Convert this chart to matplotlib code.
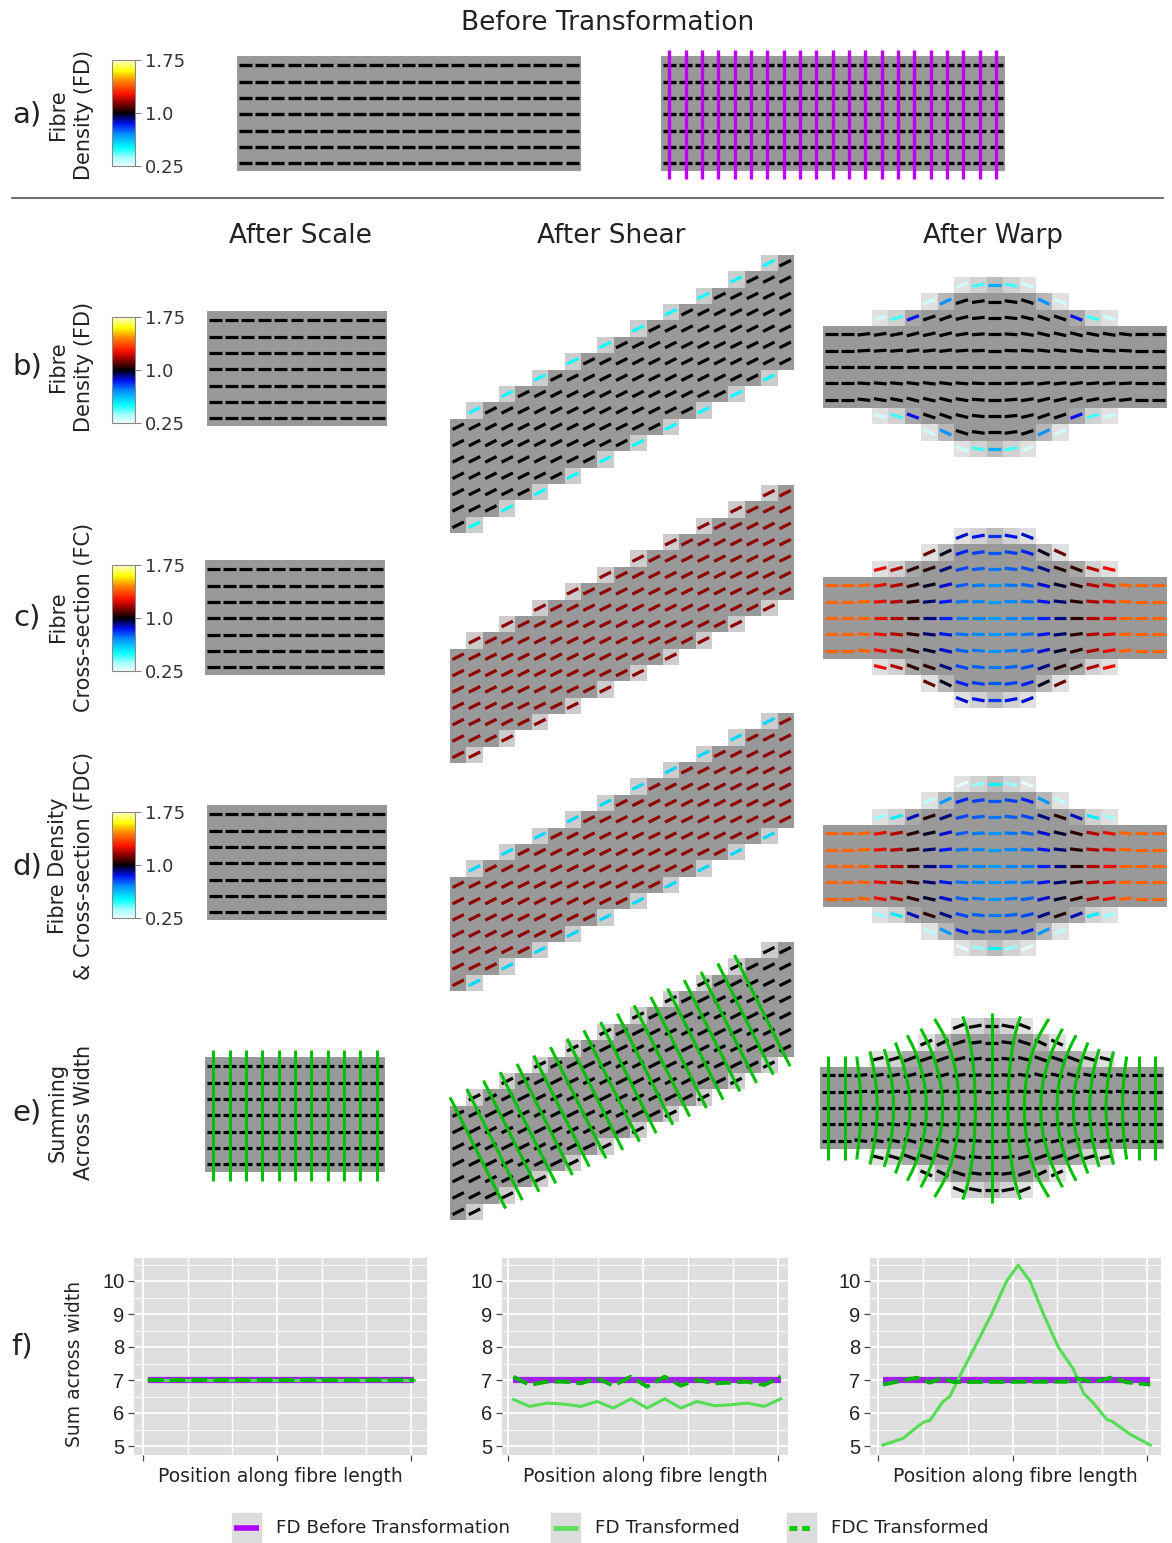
import numpy as np
import matplotlib
matplotlib.use("Agg")
import matplotlib.pyplot as plt
from matplotlib.colors import LinearSegmentedColormap, Normalize
from matplotlib.collections import LineCollection
from matplotlib.cm import ScalarMappable
from matplotlib.patches import Rectangle
from matplotlib.lines import Line2D

# ---------------- data ----------------
n_fibres = 7            # fibres across the bundle width
n_cols = 21             # voxels along the bundle before transformation
scale_cols = 11         # voxels along the bundle after scaling
shear_slope = 0.5       # voxel rise per voxel
shear_fc = 1.15         # fibre cross-section after shear
# half height of the bundle (voxels) in each column after the warp
warp_half_height = [2.5, 2.5, 2.5, 2.8, 2.95, 3.35, 3.8, 4.2, 4.8, 4.95, 5.15,
                    4.95, 4.8, 4.2, 3.8, 3.35, 2.95, 2.8, 2.5, 2.5, 2.5]
n_sum_lines_shear = 18

cbar_ticks = [0.25, 1.0, 1.75]
cbar_labels = ["0.25", "1.0", "1.75"]

# sums across width (panel f)
scale_pos = [0.4, 20.2]
scale_before = [7.0, 7.0]
scale_fd = [7.0, 7.0]
scale_fdc = [7.0, 7.0]

shear_pos = [0.4, 1.6, 2.9, 4.1, 5.4, 6.6, 7.8, 9.1, 10.3, 11.6, 12.8, 14.0,
             15.3, 16.5, 17.7, 19.0, 20.2]
shear_before = [7.0] * 17
shear_fd = [6.41, 6.20, 6.30, 6.27, 6.20, 6.35, 6.15, 6.43, 6.15, 6.43, 6.15,
            6.35, 6.22, 6.25, 6.30, 6.20, 6.43]
shear_fdc = [7.10, 6.85, 6.95, 6.95, 6.90, 7.05, 6.83, 7.10, 6.80, 7.10, 6.83,
             7.00, 6.90, 6.92, 6.95, 6.85, 7.10]

warp_pos_before = [0.37, 20.25]
warp_before = [7.0, 7.0]
warp_pos_fd = [0.37, 1.86, 3.1, 3.48, 3.85, 4.84, 5.34, 6.34, 7.2, 8.45, 9.57,
               10.43, 11.3, 12.3, 13.4, 14.53, 15.28, 16.02, 17.02, 17.4, 18.76, 20.25]
warp_fd = [5.03, 5.23, 5.64, 5.74, 5.77, 6.35, 6.5, 7.33, 8.0, 9.0, 10.0,
           10.48, 10.0, 9.0, 8.0, 7.33, 6.6, 6.3, 5.8, 5.75, 5.35, 5.03]
warp_pos_fdc = [0.37, 2.86, 3.85, 4.72, 5.6, 14.04, 14.78, 16.02, 17.4, 18.5, 20.25]
warp_fdc = [6.86, 7.07, 6.92, 7.05, 6.94, 6.95, 7.05, 6.93, 7.08, 6.93, 6.86]

# ---------------- style ----------------
plt.rcParams['font.family'] = ['DejaVu Sans']
fd_cmap = LinearSegmentedColormap.from_list("fd", [
    (0.00, '#eaffff'), (0.08, '#a0ffff'), (0.17, '#00ffff'), (0.30, '#0090ff'),
    (0.40, '#0010f0'), (0.50, '#000000'), (0.60, '#900000'), (0.68, '#ff1000'),
    (0.80, '#ff8000'), (0.90, '#ffff00'), (1.00, '#ffffd0')])
norm = Normalize(0.25, 1.75)
purple = '#c000f0'
green = '#00c000'

W, H = 1172, 1543
VOX = 16.35
fig = plt.figure(figsize=(W / 100, H / 100), dpi=100)


def fy(y):
    return 1 - y / H


def px_axes(x0, y0, x1, y1):
    return fig.add_axes([x0 / W, 1 - y1 / H, (x1 - x0) / W, (y1 - y0) / H])


def grid_axes(left, top, xlim, ylim, pad=1.5):
    ax = px_axes(left - pad * VOX, top - pad * VOX,
                 left + (xlim[1] - xlim[0] + pad) * VOX,
                 top + (ylim[1] - ylim[0] + pad) * VOX)
    ax.set_xlim(xlim[0] - pad, xlim[1] + pad)
    ax.set_ylim(ylim[0] - pad, ylim[1] + pad)
    ax.axis('off')
    return ax


def overlap(a0, a1, b0, b1):
    return np.clip(np.minimum(a1, b1) - np.maximum(a0, b0), 0, 1)


def scale_field(ncols):
    xc, yc = np.meshgrid(np.arange(ncols) + 0.5, np.arange(n_fibres) + 0.5)
    frac = np.ones_like(xc)
    return dict(extent=(0, ncols, 0, n_fibres), xc=xc, yc=yc, frac=frac,
                ang=np.zeros_like(xc), fd=frac.copy(), fc=np.ones_like(xc))


def shear_field():
    offs = shear_slope * np.arange(n_cols)
    nrows = int(np.ceil(offs.max() + n_fibres))
    xc, yc = np.meshgrid(np.arange(n_cols) + 0.5, np.arange(nrows) + 0.5)
    o = offs[None, :]
    frac = overlap(yc - 0.5, yc + 0.5, o, o + n_fibres)
    return dict(extent=(0, n_cols, 0, nrows), xc=xc, yc=yc, frac=frac,
                ang=np.full_like(xc, np.arctan(shear_slope)), fd=frac.copy(),
                fc=np.full_like(xc, shear_fc))


def warp_field():
    hh = np.array(warp_half_height)
    Hc = hh[None, :]
    dH = np.gradient(hh)[None, :]
    nr = int(np.ceil(hh.max() - 0.5))
    xc, yc = np.meshgrid(np.arange(n_cols) + 0.5, np.arange(-nr, nr + 1).astype(float))
    frac = overlap(yc - 0.5, yc + 0.5, -Hc, Hc)
    ang = np.arctan(yc / Hc * dH)
    base = (n_fibres / 2) / Hc
    r = np.clip(np.abs(yc) / Hc, 0, 1)
    fc = np.where(base < 1, base * (1 + 0.2 * r ** 2), base + 0 * r)
    return dict(extent=(0, n_cols, -nr - 0.5, nr + 0.5), xc=xc, yc=yc, frac=frac,
                ang=ang, fd=frac.copy(), fc=fc)


def draw_field(ax, f, vals=None, dash_color=None, dash_len=0.78, lw=2.3):
    frac = f['frac']
    m = frac > 0.04
    g = 1 - 0.4 * frac
    rgba = np.ones(frac.shape + (4,))
    rgba[..., 0] = g
    rgba[..., 1] = g
    rgba[..., 2] = g
    rgba[..., 3] = m.astype(float)
    xl, yl = ax.get_xlim(), ax.get_ylim()
    ax.imshow(rgba, origin='lower', extent=f['extent'], interpolation='nearest', zorder=1)
    ax.set_xlim(xl)
    ax.set_ylim(yl)
    ax.set_aspect('auto')
    a = f['ang'][m]
    cx, cy = f['xc'][m], f['yc'][m]
    hx = 0.5 * dash_len * np.cos(a)
    hy = 0.5 * dash_len * np.sin(a)
    segs = np.stack([np.stack([cx - hx, cy - hy], -1), np.stack([cx + hx, cy + hy], -1)], 1)
    cols = fd_cmap(norm(vals[m])) if dash_color is None else dash_color
    ax.add_collection(LineCollection(segs, colors=cols, linewidths=lw,
                                     capstyle='butt', zorder=2))


def warp_cross_lines(ext=0.65, nstep=80):
    hh = np.array(warp_half_height)
    xc = np.arange(n_cols) + 0.5
    dH = np.gradient(hh)
    lines = []
    for x0, h in zip(xc, hh):
        halves = []
        for sgn in (1, -1):
            ys = np.linspace(0, sgn * (h + ext), nstep)
            x = x0
            pts = [(x, 0.0)]
            for k in range(1, nstep):
                y = ys[k - 1]
                dy = ys[k] - ys[k - 1]
                x = x - (y / np.interp(x, xc, hh)) * np.interp(x, xc, dH) * dy
                pts.append((x, ys[k]))
            halves.append(pts)
        lines.append(halves[1][::-1] + halves[0][1:])
    return lines


def colorbar(y0):
    cax = px_axes(112, y0, 135, y0 + 106)
    cb = fig.colorbar(ScalarMappable(norm=norm, cmap=fd_cmap), cax=cax, ticks=cbar_ticks)
    cb.set_ticklabels(cbar_labels)
    cb.outline.set_edgecolor('#888888')
    cb.outline.set_linewidth(0.8)
    cax.tick_params(length=4, width=0.8, color='#888888', labelsize=13, pad=3,
                    labelcolor='#333333')


def row_label(letter, y, text, x_letter=27):
    fig.text(x_letter / W, fy(y), letter, fontsize=21, ha='center', va='center', color='#222222')
    if text:
        fig.text(71 / W, fy(y), text, fontsize=15, rotation=90, ha='center', va='center',
                 linespacing=1.4, color='#222222', multialignment='center')


# ---------------- titles ----------------
fig.text(608 / W, fy(23), "Before Transformation", fontsize=19, ha='center', va='center', color='#222222')
for x, t in [(300, "After Scale"), (611, "After Shear"), (993, "After Warp")]:
    fig.text(x / W, fy(236), t, fontsize=19, ha='center', va='center', color='#222222')
fig.add_artist(Line2D([12 / W, 1163 / W], [fy(198), fy(198)], color='#555555', lw=1.2))

# ---------------- row a ----------------
row_label("a)", 115, "Fibre\nDensity (FD)")
colorbar(60)
fa = scale_field(n_cols)
ax = grid_axes(237, 57, (0, n_cols), (0, n_fibres))
draw_field(ax, fa, vals=fa['fd'], lw=2.4, dash_len=0.8)
ax = grid_axes(661, 57, (0, n_cols), (0, n_fibres))
draw_field(ax, fa, vals=fa['fd'], lw=2.4, dash_len=0.8)
xs = np.arange(n_cols) + 0.5
ax.add_collection(LineCollection([[(x, -0.45), (x, n_fibres + 0.45)] for x in xs],
                                 colors=purple, linewidths=2.4, zorder=3))

# ---------------- rows b-e ----------------
row_names = [("b)", 367, "Fibre\nDensity (FD)", 317),
             ("c)", 617, "Fibre\nCross-section (FC)", 565),
             ("d)", 866, "Fibre Density\n& Cross-section (FDC)", 812),
             ("e)", 1112, "Summing\nAcross Width", None)]
scale_left = [207, 205, 207, 205]
scale_top = [312, 561, 806, 1058]
shear_top = [255, 485, 713, 942]
warp_mid = [367, 618, 866, 1108]
warp_left = [823, 823, 823, 820]
metrics = ['fd', 'fc', 'fdc', None]

fs = scale_field(scale_cols)
fsh = shear_field()
fw = warp_field()
for f in (fs, fsh, fw):
    f['fdc'] = f['fd'] * f['fc']

for k, (letter, ly, text, cby) in enumerate(row_names):
    row_label(letter, ly, text)
    if cby is not None:
        colorbar(cby)
    met = metrics[k]
    # scale
    ax = grid_axes(scale_left[k], scale_top[k], (0, scale_cols), (0, n_fibres))
    if met:
        draw_field(ax, fs, vals=fs[met])
    else:
        draw_field(ax, fs, dash_color='black')
        xs = np.arange(scale_cols) + 0.5
        ax.add_collection(LineCollection([[(x, -0.5), (x, n_fibres + 0.5)] for x in xs],
                                         colors=green, linewidths=2.2, zorder=3))
    # shear
    e = fsh['extent']
    ax = grid_axes(450, shear_top[k], (e[0], e[1]), (e[2], e[3]))
    if met:
        draw_field(ax, fsh, vals=fsh[met])
    else:
        draw_field(ax, fsh, dash_color='black')
        d = np.array([shear_slope, -1.0]) / np.hypot(shear_slope, 1.0)
        centres = np.linspace(1.7, 19.1, n_sum_lines_shear)
        segs = []
        for xc in centres:
            c = np.array([xc, shear_slope * (xc - 0.5) + n_fibres / 2])
            segs.append([c - 3.8 * d, c + 3.8 * d])
        ax.add_collection(LineCollection(segs, colors=green, linewidths=2.2, zorder=3))
    # warp
    e = fw['extent']
    ax = grid_axes(warp_left[k], warp_mid[k] - e[3] * VOX, (e[0], e[1]), (e[2], e[3]))
    if met:
        draw_field(ax, fw, vals=fw[met])
    else:
        draw_field(ax, fw, dash_color='black')
        ax.add_collection(LineCollection(warp_cross_lines(), colors=green,
                                         linewidths=2.2, zorder=3))

# ---------------- row f ----------------
row_label("f)", 1347, None, x_letter=22)
fig.text(75 / W, fy(1364), "Sum across width", fontsize=13.5, rotation=90,
         ha='center', va='center', color='#222222')

plot_rects = [(134, 427, 143, 411), (502, 788, 508, 778), (870, 1161, 878, 1147)]
series = [(scale_pos, scale_before, scale_pos, scale_fd, scale_pos, scale_fdc),
          (shear_pos, shear_before, shear_pos, shear_fd, shear_pos, shear_fdc),
          (warp_pos_before, warp_before, warp_pos_fd, warp_fd, warp_pos_fdc, warp_fdc)]
top_px, bot_px, y10_px, y5_px = 1258, 1455, 1281, 1446
for (x0, x1, t0, t2), (pb, vb, pf, vf, pd, vd) in zip(plot_rects, series):
    ax = px_axes(x0, top_px, x1, bot_px)
    ax.set_facecolor('#dedede')
    ppu = (t2 - t0) / 20
    ax.set_xlim((x0 - t0) / ppu, (x1 - t0) / ppu)
    ppy = (y5_px - y10_px) / 5
    ax.set_ylim(5 - (bot_px - y5_px) / ppy, 10 + (y10_px - top_px) / ppy)
    ax.set_xticks([0, 10, 20])
    ax.set_xticks([10 / 3, 20 / 3, 40 / 3, 50 / 3], minor=True)
    ax.set_xticklabels([])
    ax.set_yticks([5, 6, 7, 8, 9, 10])
    ax.set_yticks([5.5, 6.5, 7.5, 8.5, 9.5, 10.5], minor=True)
    ax.set_yticklabels(["5", "6", "7", "8", "9", "10"], fontfamily='Liberation Sans',
                       fontsize=14.5, color='#222222')
    ax.grid(True, which='major', color='white', lw=1.3)
    ax.grid(True, which='minor', axis='y', color='white', lw=0.6)
    ax.grid(True, which='minor', axis='x', color='white', lw=1.0)
    ax.tick_params(which='major', length=4, width=0.9, color='#444444', pad=3)
    ax.tick_params(which='minor', length=0)
    for s in ax.spines.values():
        s.set_visible(False)
    ax.set_axisbelow(True)
    ax.plot(pb, vb, color='#a020f0', lw=4.5, solid_capstyle='butt', zorder=3)
    ax.plot(pf, vf, color='#55dd55', lw=2.2, zorder=4)
    ax.plot(pd, vd, color='#00b400', lw=2.8, dashes=(4, 1.6), zorder=5)
    ax.set_xlabel("Position along fibre length", fontsize=13.5, labelpad=2, color='#222222')

# ---------------- legend ----------------
lax = px_axes(0, 1503, W, 1543)
lax.set_xlim(0, W)
lax.set_ylim(40, 0)
lax.axis('off')
legend_items = [(232, "FD Before Transformation", dict(color='#b000ff', lw=4)),
                (551, "FD Transformed", dict(color='#60e060', lw=3.5)),
                (787, "FDC Transformed", dict(color='#00cc00', lw=3.5, dashes=(1.6, 1.0)))]
for x, label, style in legend_items:
    lax.add_patch(Rectangle((x, 10), 29, 30, color='#dcdcdc'))
    lax.plot([x + 2, x + 27], [25, 25], solid_capstyle='butt', **style)
    lax.text(x + 44, 25, label, va='center', fontsize=13.2, color='#222222')

fig.savefig("out.png", dpi=100)
